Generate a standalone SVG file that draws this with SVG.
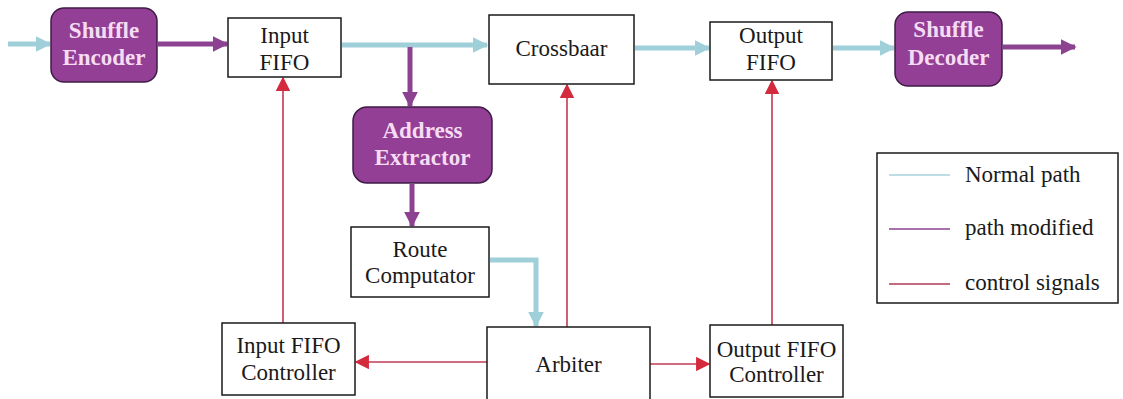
<svg xmlns="http://www.w3.org/2000/svg" width="1123" height="399" viewBox="0 0 1123 399">
  <defs>
    <style>
      .box { fill: #ffffff; stroke: #1a1a1a; stroke-width: 1.5; }
      .pbox { fill: #923f95; stroke: #3f1c45; stroke-width: 1.5; }
      .t { font-family: "Liberation Serif", "Times New Roman", serif; font-size: 23px; fill: #1a1a1a; text-anchor: middle; }
      .pt { font-family: "Liberation Serif", "Times New Roman", serif; font-size: 23px; font-weight: bold; fill: #f6dcf3; text-anchor: middle; }
      .lt { font-family: "Liberation Serif", "Times New Roman", serif; font-size: 23px; fill: #1a1a1a; }
      .blue { fill: none; stroke: #9fd0da; stroke-width: 5; }
      .purple { fill: none; stroke: #8c4290; stroke-width: 5; }
      .red { fill: none; stroke: #c23a52; stroke-width: 1.6; }
    </style>
    <marker id="ahBlue" viewBox="0 0 10 10" refX="9" refY="5" markerWidth="3.2" markerHeight="3.2" orient="auto" markerUnits="strokeWidth">
      <path d="M0,0 L10,5 L0,10 z" fill="#9fd0da"/>
    </marker>
    <marker id="ahPurple" viewBox="0 0 10 10" refX="9" refY="5" markerWidth="3.2" markerHeight="3.2" orient="auto" markerUnits="strokeWidth">
      <path d="M0,0 L10,5 L0,10 z" fill="#8c4290"/>
    </marker>
    <marker id="ahRed" viewBox="0 0 10 10" refX="9" refY="5" markerWidth="9" markerHeight="9" orient="auto" markerUnits="strokeWidth">
      <path d="M0,0 L10,5 L0,10 z" fill="#d42a3e"/>
    </marker>
  </defs>

  <rect width="1123" height="399" fill="#ffffff"/>

  <!-- connectors -->
  <g id="connectors">
    <!-- data path -->
    <line class="blue" x1="8" y1="44" x2="50" y2="44" marker-end="url(#ahBlue)"/>
    <line class="purple" x1="158" y1="44" x2="227" y2="44" marker-end="url(#ahPurple)"/>
    <line class="blue" x1="342" y1="45" x2="487" y2="45" marker-end="url(#ahBlue)"/>
    <line class="blue" x1="635" y1="48" x2="709" y2="48" marker-end="url(#ahBlue)"/>
    <line class="blue" x1="833" y1="48" x2="894" y2="48" marker-end="url(#ahBlue)"/>
    <line class="purple" x1="1003" y1="47" x2="1075" y2="47" marker-end="url(#ahPurple)"/>
    <!-- address branch -->
    <line class="purple" x1="410" y1="47" x2="410" y2="106" marker-end="url(#ahPurple)"/>
    <line class="purple" x1="412" y1="184" x2="412" y2="226" marker-end="url(#ahPurple)"/>
    <polyline class="blue" points="490,260 536,260 536,326" marker-end="url(#ahBlue)"/>
    <!-- control signals -->
    <line class="red" x1="567" y1="327" x2="567" y2="85" marker-end="url(#ahRed)"/>
    <line class="red" x1="283" y1="323" x2="283" y2="78" marker-end="url(#ahRed)"/>
    <line class="red" x1="772" y1="325" x2="772" y2="81" marker-end="url(#ahRed)"/>
    <line class="red" x1="487" y1="362" x2="356" y2="362" marker-end="url(#ahRed)"/>
    <line class="red" x1="650" y1="364" x2="709" y2="364" marker-end="url(#ahRed)"/>
  </g>

  <g id="shuffle-encoder">
    <rect class="pbox" x="51" y="8" width="106" height="74" rx="13"/>
    <text class="pt" x="104" y="38">Shuffle</text>
    <text class="pt" x="104" y="65">Encoder</text>
  </g>

  <g id="input-fifo">
    <rect class="box" x="228" y="18" width="113" height="59"/>
    <text class="t" x="284.5" y="43">Input</text>
    <text class="t" x="284.5" y="70">FIFO</text>
  </g>

  <g id="crossbaar">
    <rect class="box" x="489" y="15" width="145" height="69"/>
    <text class="t" x="561.5" y="56">Crossbaar</text>
  </g>

  <g id="output-fifo">
    <rect class="box" x="710" y="22" width="122" height="58"/>
    <text class="t" x="771" y="43">Output</text>
    <text class="t" x="771" y="70">FIFO</text>
  </g>

  <g id="shuffle-decoder">
    <rect class="pbox" x="895" y="12" width="107" height="74" rx="13"/>
    <text class="pt" x="948.5" y="37">Shuffle</text>
    <text class="pt" x="948.5" y="65">Decoder</text>
  </g>

  <g id="address-extractor">
    <rect class="pbox" x="353" y="107" width="139" height="76" rx="14"/>
    <text class="pt" x="422.5" y="138">Address</text>
    <text class="pt" x="422.5" y="165">Extractor</text>
  </g>

  <g id="route-computator">
    <rect class="box" x="351" y="227" width="138" height="70"/>
    <text class="t" x="420" y="257">Route</text>
    <text class="t" x="420" y="283">Computator</text>
  </g>

  <g id="arbiter">
    <rect class="box" x="487" y="327" width="163" height="80"/>
    <text class="t" x="568.5" y="372">Arbiter</text>
  </g>

  <g id="input-fifo-controller">
    <rect class="box" x="222" y="323" width="133" height="72"/>
    <text class="t" x="288.5" y="353">Input FIFO</text>
    <text class="t" x="288.5" y="380">Controller</text>
  </g>

  <g id="output-fifo-controller">
    <rect class="box" x="710" y="325" width="133" height="72"/>
    <text class="t" x="776.5" y="357">Output FIFO</text>
    <text class="t" x="776.5" y="382">Controller</text>
  </g>

  <g id="legend">
    <rect class="box" x="877" y="153" width="241" height="150"/>
    <line x1="889" y1="175" x2="950" y2="175" stroke="#a8d3dc" stroke-width="1.5"/>
    <line x1="889" y1="229" x2="950" y2="229" stroke="#8c4290" stroke-width="1.5"/>
    <line x1="889" y1="284" x2="950" y2="284" stroke="#b23a55" stroke-width="1.5"/>
    <text class="lt" x="965" y="182">Normal path</text>
    <text class="lt" x="965" y="235">path modified</text>
    <text class="lt" x="965" y="290">control signals</text>
  </g>
</svg>
